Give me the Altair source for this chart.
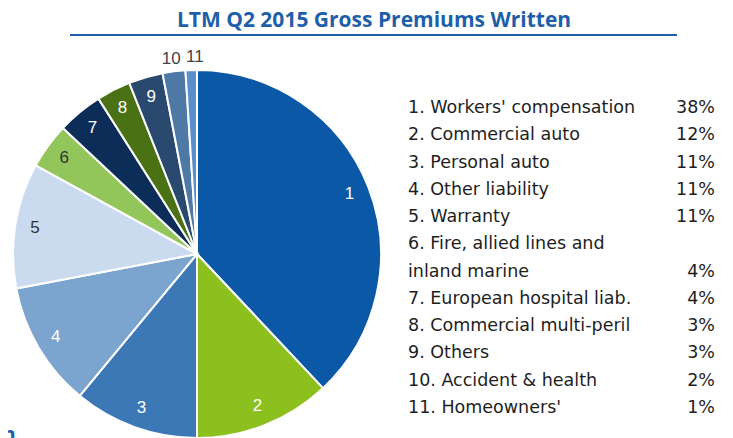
import altair as alt
import pandas as pd

# ---- data ----
slice_nums = ["1", "2", "3", "4", "5", "6", "7", "8", "9", "10", "11"]
slice_shares = [38, 12, 11, 11, 11, 4, 4, 3, 3, 2, 1]
slice_colors = ["#0B58A6", "#8CC01F", "#3B78B5", "#7BA4CE", "#CBDBEF", "#92C65A",
                "#0B2D58", "#4A7113", "#29496E", "#4E79A5", "#5B8FCC"]
label_colors = ["white", "white", "white", "white", "#333333", "#333333",
                "white", "white", "white", "#444444", "#444444"]
label_group = ["in"] * 9 + ["out10", "out11"]

legend_names = ["1. Workers' compensation", "2. Commercial auto", "3. Personal auto",
                "4. Other liability", "5. Warranty", "6. Fire, allied lines and",
                "inland marine", "7. European hospital liab.", "8. Commercial multi-peril",
                "9. Others", "10. Accident & health", "11. Homeowners'"]
legend_pcts = ["38%", "12%", "11%", "11%", "11%", "", "4%", "4%", "3%", "3%", "2%", "1%"]

title_text = "LTM Q2 2015 Gross Premiums Written"

# ---- tables ----
pie_df = pd.DataFrame({
    "idx": list(range(len(slice_nums))),
    "num": slice_nums,
    "share": slice_shares,
    "tcol": label_colors,
})
for g in ["in", "out10", "out11"]:
    pie_df[g] = [(n if lg == g else "") for n, lg in zip(slice_nums, label_group)]

leg_df = pd.DataFrame({"row": list(range(len(legend_names))),
                       "name": legend_names, "pct": legend_pcts})
title_df = pd.DataFrame({"t": [title_text]})

CX, CY, R = 189, 246, 184
BLUE = "#1F5FAA"

base = alt.Chart(pie_df).encode(
    theta=alt.Theta("share:Q", stack=True),
    order=alt.Order("idx:Q"),
)

pie = base.mark_arc(x=CX, y=CY, outerRadius=R, stroke="white", strokeWidth=2).encode(
    color=alt.Color("num:N", scale=alt.Scale(domain=slice_nums, range=slice_colors), legend=None)
)

def lbl(field, radius, dx=0):
    return base.mark_text(x=CX, y=CY, radius=radius, dx=dx, font="Liberation Sans",
                          fontSize=17).encode(
        text=f"{field}:N", color=alt.Color("tcol:N", scale=None))

inner_lbl = lbl("in", 164)
out10 = lbl("out10", 197, -1)
out11 = lbl("out11", 197, 4)

yscale = alt.Scale(domain=[0, 11], range=[100, 400])
leg_names = alt.Chart(leg_df).mark_text(align="left", baseline="middle", font="DejaVu Sans",
                                        fontSize=17.5, color="#1E1E1E").encode(
    x=alt.value(400), y=alt.Y("row:Q", scale=yscale, axis=None), text="name:N")
leg_pcts = alt.Chart(leg_df).mark_text(align="right", baseline="middle", font="DejaVu Sans",
                                       fontSize=17.5, color="#1E1E1E").encode(
    x=alt.value(707), y=alt.Y("row:Q", scale=yscale, axis=None), text="pct:N")

title = alt.Chart(title_df).mark_text(align="center", baseline="alphabetic", font="Open Sans",
                                      fontWeight="bold", fontSize=21, color=BLUE).encode(
    x=alt.value(366), y=alt.value(19), text="t:N")
rule = alt.Chart(title_df).mark_rule(color=BLUE, strokeWidth=2).encode(
    x=alt.value(62), x2=alt.value(669), y=alt.value(27))
frag = alt.Chart(pd.DataFrame({"t": ["n"]})).mark_text(align="left", baseline="alphabetic",
                                                        font="Open Sans", fontWeight="bold",
                                                        fontSize=21, color=BLUE).encode(
    x=alt.value(-6), y=alt.value(434), text="t:N")

chart = alt.layer(pie, inner_lbl, out10, out11, leg_names, leg_pcts, title, rule, frag).properties(
    width=717, height=430, padding=0, autosize=alt.AutoSizeParams(type="none")
).configure_view(stroke=None)

chart.save("out.html", embed_options={"renderer": "svg", "actions": False})
